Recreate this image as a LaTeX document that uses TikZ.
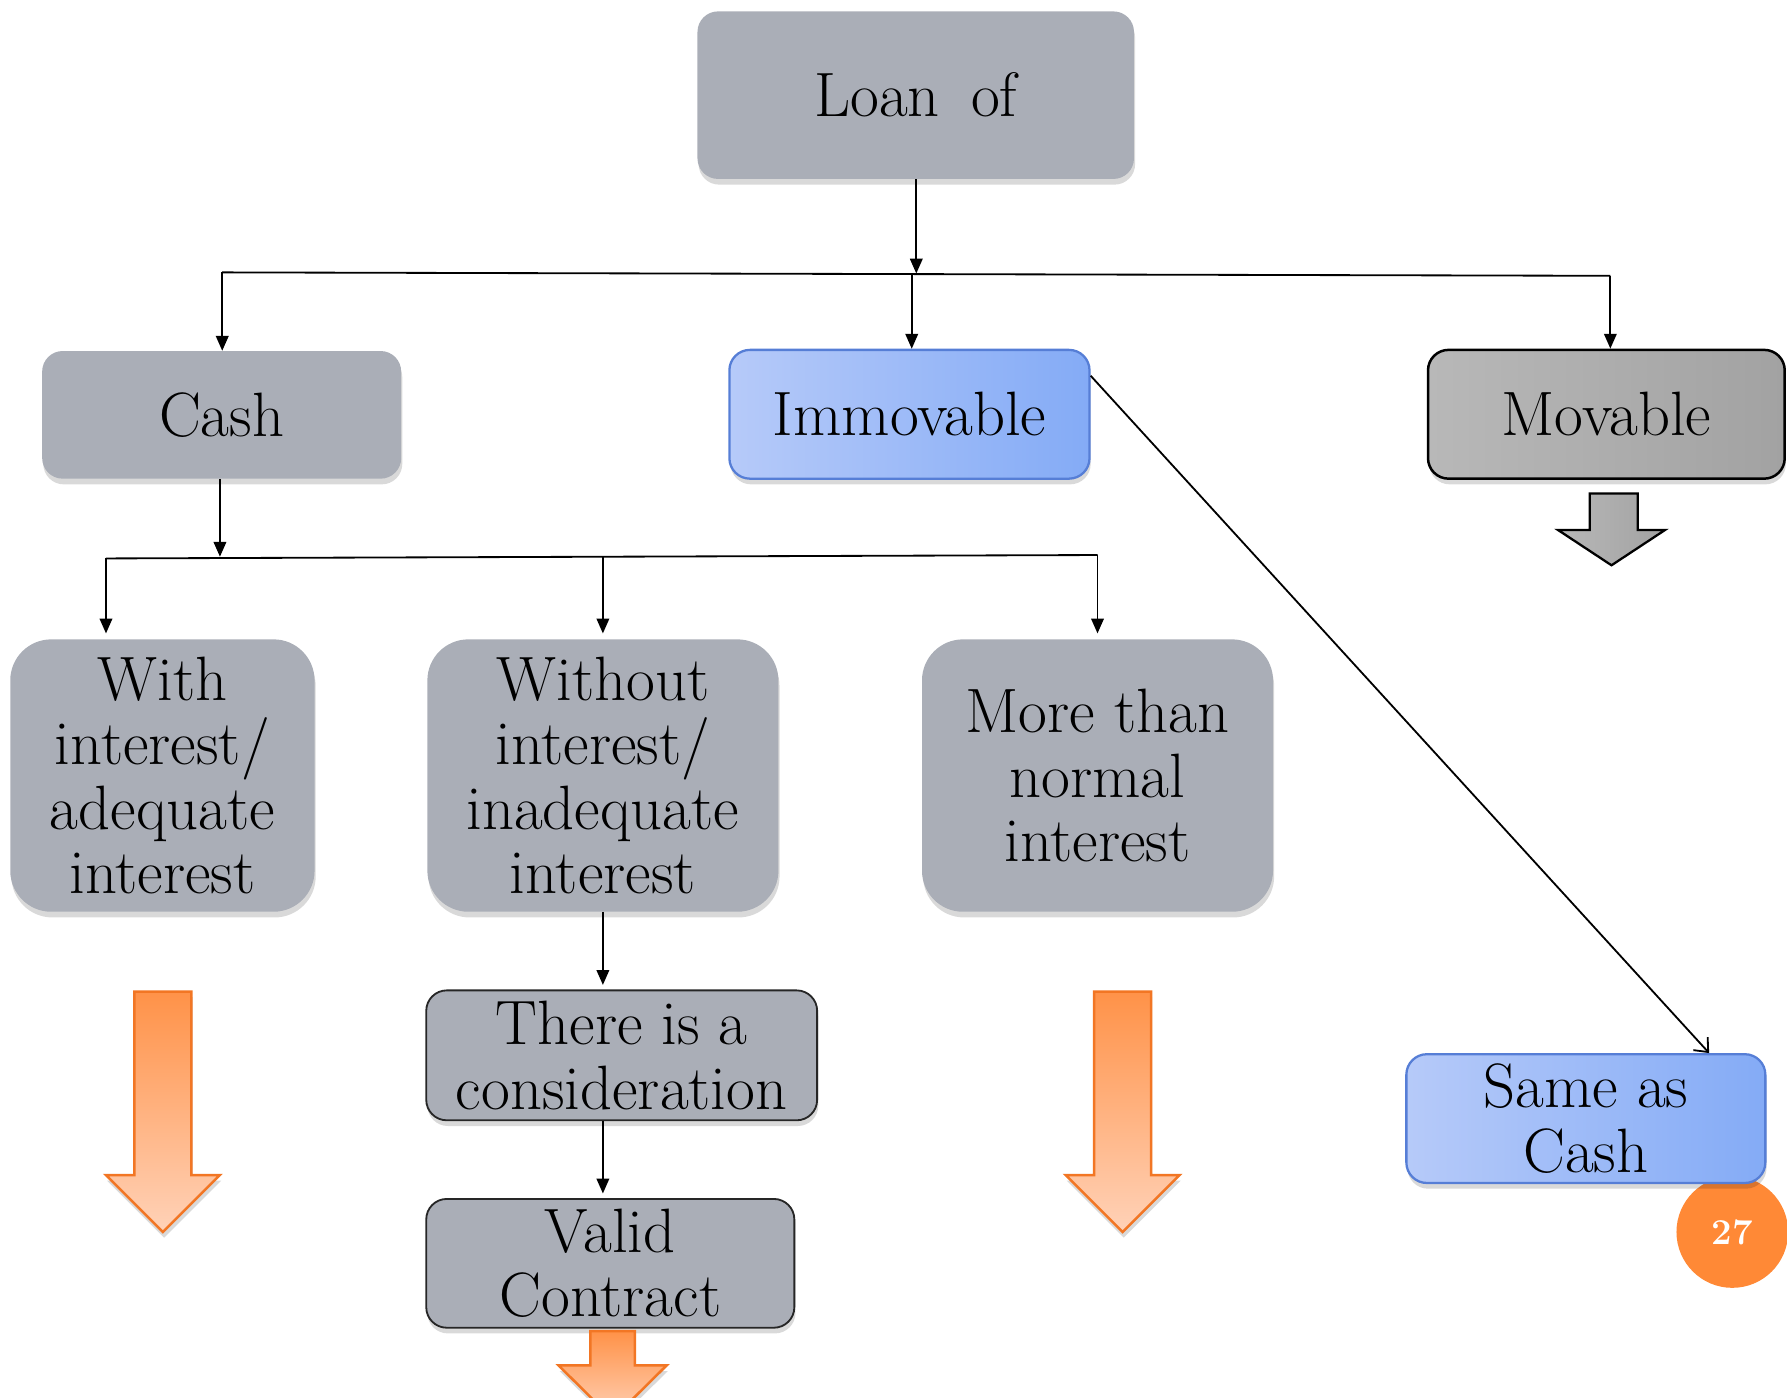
\documentclass[tikz,border=0pt]{standalone}
\usetikzlibrary{arrows.meta,shadows}
\definecolor{boxgray}{RGB}{170,174,183}
\definecolor{blueL}{RGB}{182,202,249}
\definecolor{blueM}{RGB}{198,215,252}
\definecolor{blueR}{RGB}{132,171,246}
\definecolor{blueEdge}{RGB}{86,126,214}
\definecolor{grayL}{RGB}{184,184,184}
\definecolor{grayM}{RGB}{210,210,210}
\definecolor{grayR}{RGB}{162,162,162}
\definecolor{orangeEdge}{RGB}{242,118,36}
\definecolor{orangeTop}{RGB}{255,146,72}
\definecolor{orangeBot}{RGB}{255,210,184}
\definecolor{badgefill}{RGB}{255,137,54}
\begin{document}
\begin{tikzpicture}[x=1pt,y=-1pt,
  boxtext/.style={font=\fontsize{55}{56.5}\selectfont, align=center, inner sep=0pt, text=black},
  soft shadow/.style={drop shadow={shadow xshift=1pt,shadow yshift=-5pt,opacity=0.15,fill=black}},
  graybox/.style={boxtext, rectangle, rounded corners=18pt, fill=boxgray, soft shadow},
  tallbox/.style={graybox, rounded corners=36pt, minimum width=#1, minimum height=239pt},
  edgedbox/.style={graybox, draw=black!85, line width=1.6pt},
  bluebox/.style={boxtext, rectangle, rounded corners=18pt, draw=blueEdge, line width=2pt,
    left color=blueL, middle color=blueM, right color=blueR, soft shadow},
  greybox/.style={boxtext, rectangle, rounded corners=18pt, draw=black, line width=2.2pt,
    left color=grayL, middle color=grayM, right color=grayR, soft shadow},
  badge/.style={circle, fill=badgefill, minimum size=98pt, inner sep=0pt, text=white,
    font=\bfseries\fontsize{32}{34}\selectfont},
  wire/.style={line width=1.6pt, draw=black},
  conn/.style={wire, -{Triangle[length=13pt,width=11pt]}},
  diag/.style={wire, -{Straight Barb[length=10pt,width=17pt]}},
  orangearrow/.style={draw=orangeEdge, line width=2.2pt, line join=miter,
    top color=orangeTop, bottom color=orangeBot, soft shadow},
  greyarrow/.style={draw=black, line width=2pt, line join=miter,
    left color=grayL, middle color=grayM, right color=grayR}
]
\useasboundingbox (0,0) rectangle (1568,1226);

% boxes
\node[graybox, minimum width=383pt, minimum height=147pt] (loan) at (803.5,83.5) {Loan\hspace{0.5em}of};
\node[graybox, minimum width=315pt, minimum height=112pt] (cash) at (194.5,364) {Cash};
\node[bluebox, minimum width=316pt, minimum height=113pt] (immov) at (798,363.5) {Immovable};
\node[greybox, minimum width=313pt, minimum height=113pt] (mov) at (1409.5,363.5) {Movable};

\node[tallbox=267pt] (withint) at (142.5,680.5) {With\\interest/\\adequate\\interest};
\node[tallbox=308pt] (without) at (529,680.5) {Without\\interest/\\inadequate\\interest};
\node[tallbox=308pt] (more) at (963,680.5) {More than\\normal\\interest};

\node[edgedbox, minimum width=343pt, minimum height=114pt] (cons) at (545.5,926) {There is a\\consideration};
\node[edgedbox, minimum width=323pt, minimum height=113pt] (valid) at (535.5,1108.5) {Valid\\Contract};

\node[badge] (page) at (1520,1081) {27};
\node[bluebox, minimum width=315pt, minimum height=113pt] (same) at (1391.5,981.5) {Same as\\Cash};

% first level branching
\coordinate (topbus) at (804,240);
\coordinate (busL) at (195,239);
\coordinate (busI) at (800,240.5);
\coordinate (busR) at (1413,242);
\draw[conn] (loan.south -| topbus) -- (topbus);
\draw[wire] (busL) -- (busR);
\draw[conn] (busL) -- (busL |- cash.north);
\draw[conn] (busI) -- (busI |- immov.north);
\draw[conn] (busR) -- (busR |- mov.north);

% second level branching under Cash
\coordinate (cashdrop) at (193,488.5);
\coordinate (bus2L) at (93,490);
\coordinate (bus2M) at (529,489);
\coordinate (bus2R) at (963,487);
\draw[conn] (cashdrop |- cash.south) -- (cashdrop);
\draw[wire] (bus2L) -- (bus2R);
\draw[conn, shorten >=5pt] (bus2L) -- (bus2L |- withint.north);
\draw[conn, shorten >=5pt] (bus2M) -- (bus2M |- without.north);
\draw[conn, shorten >=5pt] (bus2R) -- (bus2R |- more.north);

% chain below the interest-free loan
\draw[conn, shorten >=4pt] (without.south) -- (without.south |- cons.north);
\draw[conn, shorten >=4pt] (cons.south -| without.south) -- (valid.north -| without.south);

% immovable goes the same way as cash
\draw[diag] (immov.12.7) -- (same.28.4);

% block arrows
\draw[greyarrow] (1395,433) -- (1437,433) -- (1437,465) -- (1461,465) -- (1414,496)
  -- (1367,465) -- (1395,465) -- cycle;
\draw[orangearrow] (118,870) -- (168,870) -- (168,1031) -- (193,1031) -- (143,1081)
  -- (93,1031) -- (118,1031) -- cycle;
\draw[orangearrow] (960,870) -- (1010,870) -- (1010,1031) -- (1035,1031) -- (985,1081)
  -- (935,1031) -- (960,1031) -- cycle;
\draw[orangearrow] (518,1168) -- (557,1168) -- (557,1198) -- (585,1198) -- (537.5,1245)
  -- (490,1198) -- (518,1198) -- cycle;
\end{tikzpicture}
\end{document}
